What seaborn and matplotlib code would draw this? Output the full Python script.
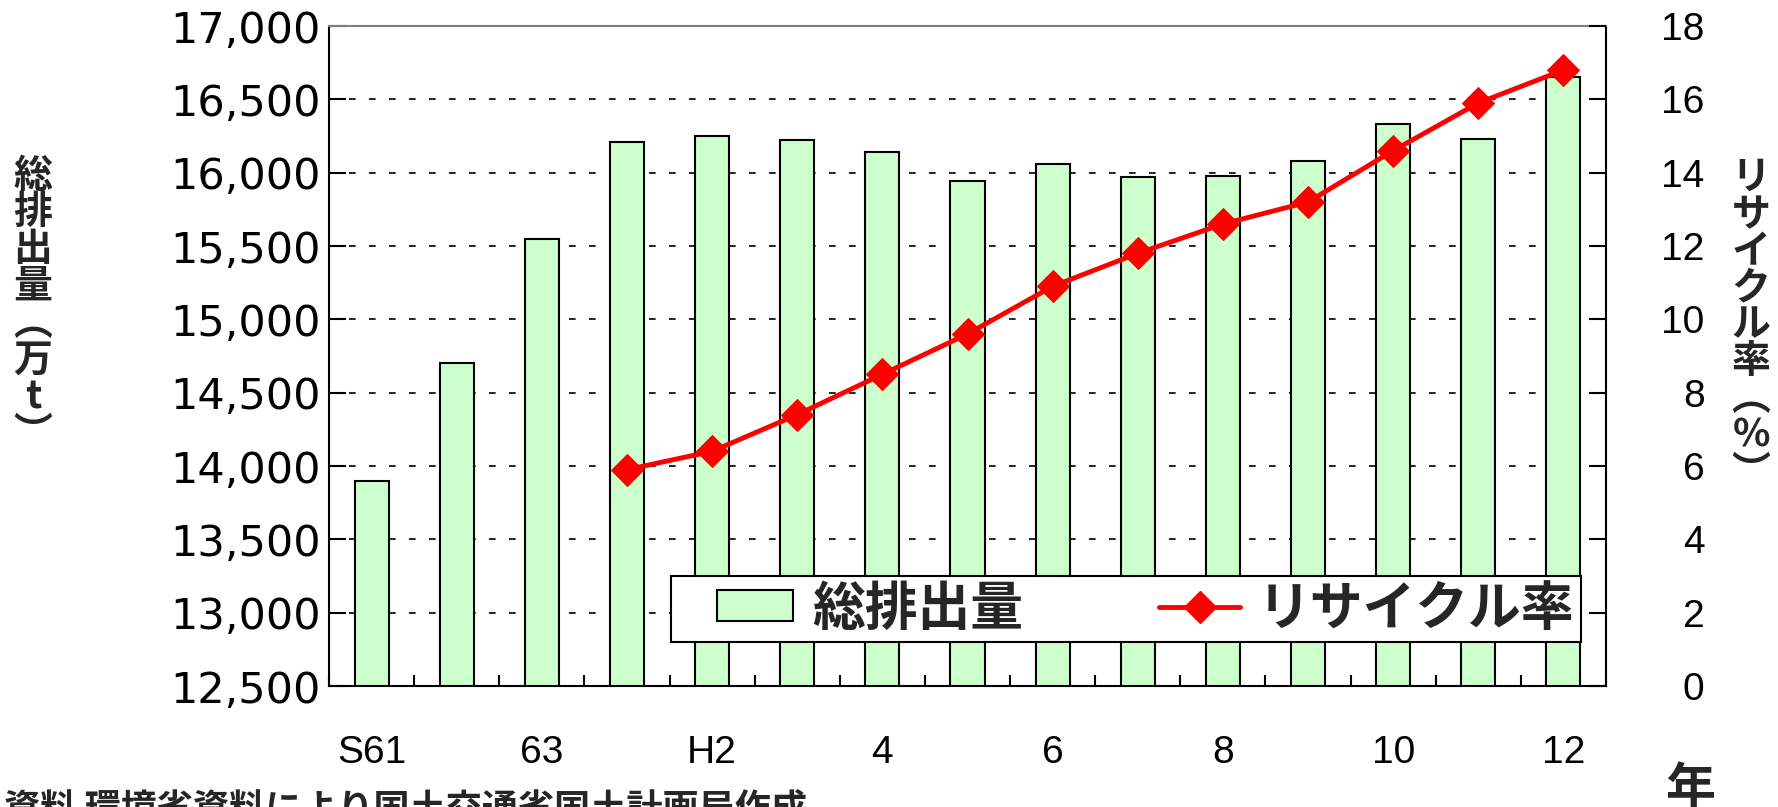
import numpy as np
import pandas as pd
import seaborn as sns
import matplotlib.pyplot as plt
from matplotlib.patches import Patch
from matplotlib.lines import Line2D
from matplotlib.legend_handler import HandlerPatch, HandlerLine2D
from matplotlib.ticker import FuncFormatter

# Data
years = ["S61", "S62", "S63", "H1", "H2", "H3", "H4", "H5",
         "H6", "H7", "H8", "H9", "H10", "H11", "H12"]
tick_labels = ["S61", "", "63", "", "H2", "", "4", "", "6", "", "8", "", "10", "", "12"]
total_emission = [13900, 14700, 15550, 16210, 16250, 16220, 16140, 15940,
                  16060, 15970, 15980, 16080, 16330, 16230, 16650]
recycle_rate = [np.nan, np.nan, np.nan, 5.9, 6.4, 7.4, 8.5, 9.6,
                10.9, 11.8, 12.6, 13.2, 14.6, 15.9, 16.8]

sns.set_theme(style="white")
plt.rcParams["font.family"] = ["Liberation Sans", "Noto Sans CJK JP", "DejaVu Sans"]
cjk = ["Noto Sans CJK JP", "DejaVu Sans"]

df = pd.DataFrame({"year": years, "total": total_emission, "rate": recycle_rate})
df["pos"] = np.arange(len(years))

W, H = 1778, 807
fig = plt.figure(figsize=(W / 100, H / 100), dpi=100)
ax = fig.add_axes([329 / W, 1 - 686 / H, (1606 - 329) / W, (686 - 26) / H])

# Bars: total emission (left axis)
sns.barplot(data=df, x="year", y="total", order=years, color="#CCFFCC",
            saturation=1, edgecolor="black", linewidth=1.5, width=0.4, ax=ax)
ax.set_ylim(12500, 17000)
ax.set_xlim(-0.5, len(years) - 0.5)
ax.set_yticks(np.arange(12500, 17001, 500))
ax.yaxis.set_major_formatter(FuncFormatter(lambda v, p: f"{v:,.0f}"))
ax.yaxis.grid(True, linestyle=(0, (4, 8)), color="black", linewidth=1.2)
ax.set_axisbelow(True)
ax.set_xlabel("")
ax.set_ylabel("")
ax.tick_params(axis="y", direction="in", length=12, width=1.5, left=True,
               pad=6, colors="black")
for lab in ax.get_yticklabels():
    lab.set_fontfamily("DejaVu Sans")
    lab.set_fontsize(31)

for side in ["left", "bottom", "right"]:
    ax.spines[side].set_color("black")
    ax.spines[side].set_linewidth(1.5)
ax.spines["top"].set_color("#808080")
ax.spines["top"].set_linewidth(1.5)

# Line: recycle rate (right axis)
ax2 = ax.twinx()
sns.lineplot(data=df.dropna(), x="pos", y="rate", ax=ax2, color="red",
             linewidth=3.5, marker="D", markersize=16, markeredgecolor="red")
ax2.set_ylim(0, 18)
ax2.set_yticks(range(0, 19, 2))
ax2.set_xlabel("")
ax2.set_ylabel("")
ax2.tick_params(axis="y", direction="in", length=12, width=1.5, right=True,
                labelsize=28, pad=71, colors="black")
for lab in ax2.get_yticklabels():
    lab.set_horizontalalignment("right")
for side in ax2.spines:
    ax2.spines[side].set_visible(False)

# x ticks: labels at centres, inward marks at category boundaries
ax.set_xticks(range(len(years)))
ax.set_xticklabels(tick_labels)
ax.set_xticks(np.arange(-0.5, len(years), 1), minor=True)
ax.tick_params(axis="x", which="major", length=0, pad=35, labelsize=28, colors="black")
ax.tick_params(axis="x", which="minor", direction="in", length=8, width=1.5,
               bottom=True, color="black")

# Legend
handles = [Patch(facecolor="#CCFFCC", edgecolor="black", linewidth=1.5),
           Line2D([], [], color="red", linewidth=3.5, marker="D", markersize=16)]
leg = ax2.legend(handles, ["総排出量", "リサイクル率"], ncol=2, loc="center",
                 bbox_to_anchor=(671 / W, 1 - 642 / H, 910 / W, 66 / H),
                 bbox_transform=fig.transFigure, mode="expand", frameon=True,
                 fancybox=False, framealpha=1, edgecolor="black",
                 prop=dict(family=cjk, weight="bold", size=38),
                 handler_map={Patch: HandlerPatch(xpad=0.76),
                              Line2D: HandlerLine2D(xpad=0.68)},
                 handlelength=2.2, handleheight=0.52, handletextpad=0.35,
                 borderpad=0.12, borderaxespad=0)
leg.get_frame().set_linewidth(1.5)

# Axis titles written vertically
fig.text(33 / W, 1 - 305 / H, "\n".join("総排出量︵万t︶"), ha="center", va="center",
         fontsize=28, fontweight="bold", family=cjk, linespacing=0.93)
fig.text(1751 / W, 1 - 325 / H, "\n".join("リサイクル率︵%︶"), ha="center", va="center",
         fontsize=28, fontweight="bold", family=cjk, linespacing=0.93)
fig.text(1690 / W, 1 - 790 / H, "年", ha="center", va="center",
         fontsize=36, fontweight="bold", family=cjk)
fig.text(0.002, 1 - 790 / H, "資料 環境省資料により国土交通省国土計画局作成",
         ha="left", va="top", fontsize=26, fontweight="bold", family=cjk)

fig.savefig("out.png", dpi=100)
